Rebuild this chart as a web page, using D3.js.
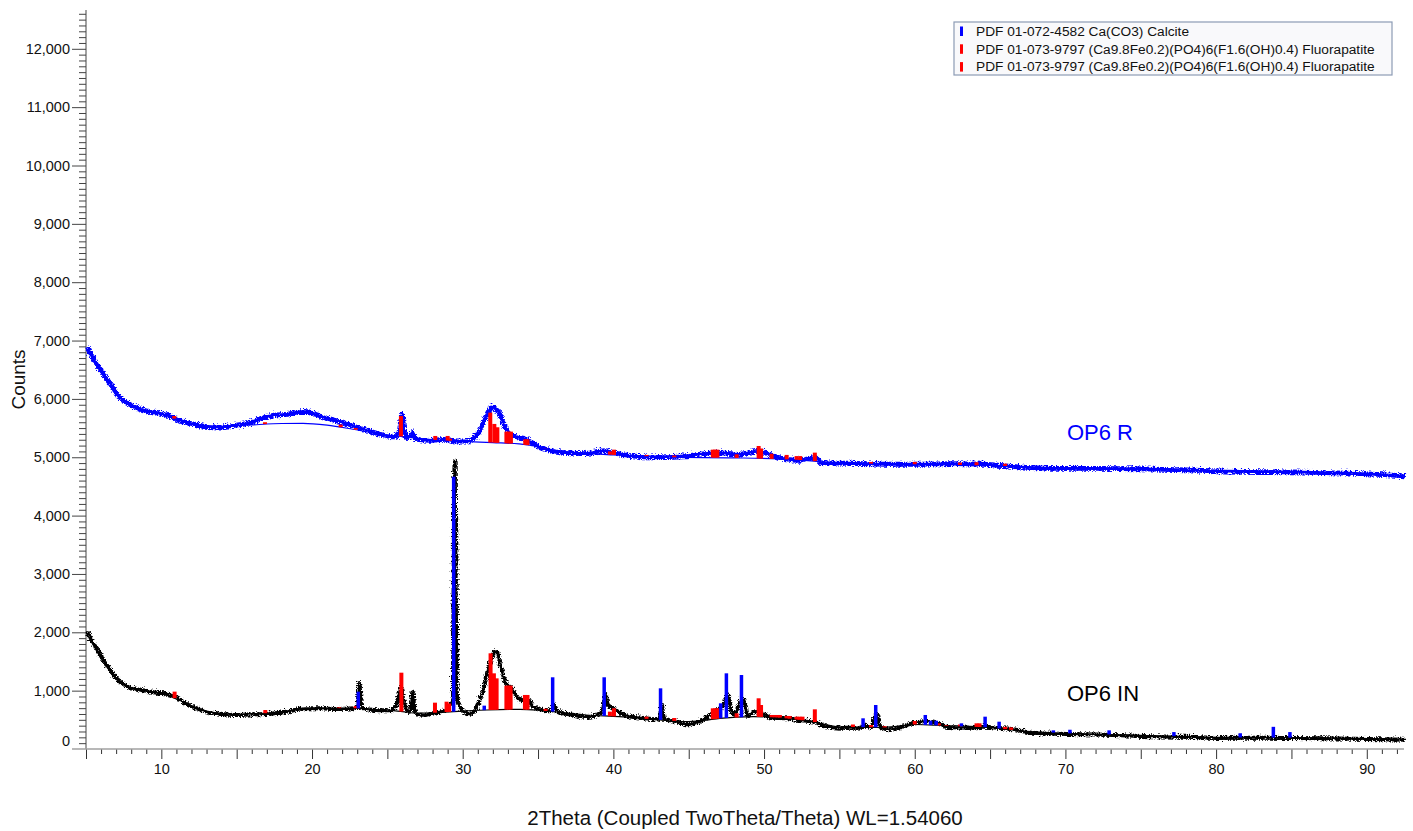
<!DOCTYPE html>
<html>
<head>
<meta charset="utf-8">
<script src="https://cdn.jsdelivr.net/npm/d3@7"></script>
<style>
  html, body { margin: 0; padding: 0; background: #ffffff; }
  svg { display: block; }
  text { font-family: "Liberation Sans", Arial, sans-serif; }
</style>
</head>
<body>
<svg id="chart" width="1413" height="831"></svg>
<script>
// ---------------- DATA ----------------
const xDomain = [5, 92.47];
const yDomain = [0, 12665];
const yMajorTicks = [0,1000,2000,3000,4000,5000,6000,7000,8000,9000,10000,11000,12000];
const xLabelTicks = [10,20,30,40,50,60,70,80,90];

// OP6 R measured pattern [2theta, counts]
const op6R = [[5.0,6900],[5.3,6760],[5.66,6610],[6.0,6480],[6.33,6350],[6.7,6210],[7.0,6100],[7.3,6010],[7.65,5950],[8.0,5900],[8.32,5867],[8.98,5810],[9.65,5782],[10.3,5742],[10.97,5668],[11.64,5610],[12.3,5571],[12.96,5542],[13.85,5536],[14.73,5565],[15.6,5593],[16.5,5685],[17.39,5737],[18.27,5754],[19.15,5799],[19.6,5800],[20.04,5765],[20.93,5685],[21.8,5627],[22.7,5553],[23.58,5480],[24.46,5411],[25.35,5365],[25.7,5450],[25.9,5760],[26.05,5450],[26.23,5353],[26.5,5400],[26.6,5440],[26.7,5380],[26.9,5325],[27.78,5308],[28.67,5325],[29.55,5296],[30.2,5296],[30.88,5411],[31.43,5696],[31.87,5879],[32.32,5782],[32.76,5525],[33.3,5382],[34.2,5325],[34.86,5210],[35.97,5125],[36.85,5096],[38.0,5079],[39.33,5130],[40.2,5079],[42.4,5022],[44.6,5039],[46.85,5096],[48.17,5068],[49.6,5120],[50.8,5022],[52.16,4965],[53.37,5010],[53.7,4924],[55.7,4914],[57.9,4897],[60.12,4897],[62.33,4908],[64.54,4897],[66.76,4851],[69.0,4828],[72,4825],[75,4817],[78,4800],[80,4782],[85,4765],[90,4731],[92.47,4697]];

// OP6 R fitted background
const op6RBackground = [[5,6880],[6,6450],[7,6080],[8,5880],[9,5790],[10,5740],[11,5650],[12,5580],[13,5540],[14,5530],[15,5545],[16,5553],[17,5570],[18,5578],[19.4,5582],[21,5550],[22.7,5480],[24,5420],[26,5353],[28,5300],[30.4,5267],[32,5250],[33.75,5228],[35,5180],[36,5125],[38,5070],[40,5040],[44,5000],[48,4990],[52,4960],[55,4900],[60,4880],[65,4860],[70,4810],[80,4770],[92.47,4690]];

// OP6 IN measured pattern [2theta, counts]
const op6IN = [[5.0,2040],[5.3,1880],[5.66,1731],[6.0,1580],[6.33,1440],[6.7,1310],[7.0,1217],[7.3,1150],[7.65,1097],[8.3,1045],[9.0,1011],[9.64,982],[10.3,965],[10.97,897],[11.64,783],[12.3,714],[12.96,657],[13.8,622],[14.95,600],[16.08,612],[17.14,622],[18.27,657],[19.4,714],[20.46,714],[21.6,703],[22.7,714],[22.95,760],[23.07,1150],[23.2,760],[23.58,697],[24.44,680],[25.1,680],[25.5,760],[25.8,1065],[26.05,800],[26.23,668],[26.45,700],[26.6,1000],[26.75,680],[26.9,622],[27.4,600],[28.05,640],[28.93,697],[29.27,897],[29.4,4940],[29.52,1100],[29.6,840],[29.93,668],[30.48,622],[30.93,783],[31.37,1126],[31.7,1469],[32.14,1697],[32.47,1411],[32.8,1154],[33.14,1068],[33.58,897],[34.02,840],[34.24,869],[34.57,754],[35.1,697],[35.57,680],[35.9,700],[35.97,790],[36.1,680],[36.45,640],[37.34,600],[38.2,566],[39.1,640],[39.4,955],[39.6,760],[39.88,725],[40.2,668],[40.87,583],[41.76,554],[42.64,526],[43.0,540],[43.13,790],[43.3,540],[43.97,497],[44.86,440],[45.74,509],[46.4,612],[47.07,725],[47.25,760],[47.5,950],[47.7,700],[47.95,620],[48.5,890],[48.84,583],[49.4,668],[49.84,612],[50.6,554],[51.5,543],[52.4,509],[53.26,486],[53.9,411],[55.03,383],[56.1,383],[56.57,420],[57.0,390],[57.4,617],[57.6,400],[58.13,354],[59.0,394],[59.9,468],[60.7,497],[61.5,460],[62.1,394],[63.4,383],[64.5,400],[65.0,390],[66.5,354],[67.64,297],[70,274],[72,265],[75,240],[78,225],[80,206],[83,210],[85,205],[88,195],[90,189],[92.47,175]];

// OP6 IN fitted background
const op6INBackground = [[5,2000],[6,1560],[7,1200],[8,1040],[9,990],[10,950],[11,860],[12,740],[13,650],[14,610],[15,595],[16,605],[17,615],[18,640],[19,680],[20,695],[21,700],[22,700],[23,697],[24,680],[25,665],[26,640],[27,615],[28,620],[29.4,640],[30,650],[31.6,668],[33.8,680],[35,665],[36,640],[38.2,583],[40.4,554],[42.6,509],[44.8,468],[46,490],[47.07,526],[49.3,554],[51,540],[53,480],[55,380],[58,370],[60,420],[62,400],[65,370],[67,310],[70,270],[75,235],[80,200],[85,195],[90,180],[92.47,170]];

// Reference stick patterns: [2theta, top counts] (bars start at the background)
const calciteIN = [[23.07,983],[29.4,4667],[31.43,743],[35.97,1229],[39.39,1229],[43.13,1040],[47.12,783],[47.5,1297],[48.5,1268],[56.57,526],[57.41,754],[60.7,583],[61.05,486],[61.42,486],[63.1,440],[64.67,554],[65.6,468],[69.2,320],[70.3,330],[72.9,320],[77.2,290],[81.6,270],[83.8,380],[84.9,290]];
const apatiteIN = [[10.88,983],[16.9,668],[21.8,714],[22.9,737],[25.93,1308],[28.16,794],[28.93,811],[29.1,780],[31.85,1640],[32.07,1297],[32.25,1211],[32.9,1086],[33.05,1086],[33.18,1086],[34.13,926],[34.3,926],[35.5,690],[39.77,640],[40.04,697],[42.2,554],[44.04,531],[46.6,697],[46.75,697],[46.9,697],[47.05,697],[48.18,612],[49.64,869],[49.8,754],[50.5,583],[50.7,583],[50.9,583],[51.05,583],[51.5,566],[51.7,566],[52.16,554],[52.35,554],[52.55,554],[53.37,680],[55.9,420],[57.1,410],[58.0,390],[60.0,480],[61.6,440],[62.1,410],[63.0,420],[64.1,440],[64.3,440],[66.0,380],[66.4,370]];
const apatiteR = [[10.86,5707],[16.88,5600],[21.9,5560],[22.9,5500],[25.9,5707],[28.18,5365],[29.0,5365],[29.15,5320],[31.83,5765],[32.1,5571],[32.3,5514],[32.9,5439],[33.05,5439],[33.2,5439],[34.15,5308],[34.3,5308],[35.5,5150],[39.77,5100],[40.04,5130],[42.2,5040],[44.04,5030],[46.6,5130],[46.75,5130],[46.9,5130],[48.18,5050],[49.64,5193],[49.8,5150],[50.5,5060],[51.5,5040],[52.16,5020],[52.4,5020],[53.37,5079],[57.1,4920],[60.0,4920],[63.0,4910],[64.1,4915],[66.0,4890]];

const legendItems = [
  {label: "PDF 01-072-4582 Ca(CO3) Calcite", color: "#0000ff"},
  {label: "PDF 01-073-9797 (Ca9.8Fe0.2)(PO4)6(F1.6(OH)0.4) Fluorapatite", color: "#ff0000"},
  {label: "PDF 01-073-9797 (Ca9.8Fe0.2)(PO4)6(F1.6(OH)0.4) Fluorapatite", color: "#ff0000"}
];
const sampleLabels = [
  {text: "OP6 R", x: 70.1, y: 5290, color: "#0000ff"},
  {text: "OP6 IN", x: 70.1, y: 820, color: "#000000"}
];

// ---------------- CHART ----------------
const svg = d3.select("#chart");
const x = d3.scaleLinear().domain(xDomain).range([86, 1404]);
const y = d3.scaleLinear().domain(yDomain).range([749, 10]);

const BLUE = "#0000ff", RED = "#ff0000";
const FONT = '"Liberation Sans", Arial, sans-serif';

// noise texture for the measured traces (visual only)
const defs = svg.append("defs");
const flt = defs.append("filter").attr("id", "grain")
  .attr("filterUnits", "userSpaceOnUse").attr("x", 0).attr("y", 0).attr("width", 1413).attr("height", 831);
flt.append("feTurbulence").attr("type", "turbulence").attr("baseFrequency", "0.45 0.6")
  .attr("numOctaves", 2).attr("seed", 3).attr("result", "n");
flt.append("feDisplacementMap").attr("in", "SourceGraphic").attr("in2", "n")
  .attr("scale", 5).attr("xChannelSelector", "R").attr("yChannelSelector", "G");

// y axis minor ticks
const yMinor = d3.range(100, 12601, 100).filter(v => v % 1000 !== 0);
svg.append("g").attr("transform", "translate(86,0)")
  .call(d3.axisLeft(y).tickValues(yMinor).tickSize(7).tickFormat(""))
  .call(g => g.select(".domain").remove())
  .call(g => g.selectAll("line").attr("stroke", "#444"));

// y axis major
const yAx = svg.append("g").attr("transform", "translate(86,0)")
  .call(d3.axisLeft(y).tickValues(yMajorTicks).tickSize(14).tickPadding(2).tickFormat(d3.format(",")))
  .call(g => g.select(".domain").attr("stroke", "#444").attr("d", `M0,${y(0)}V10`))
  .call(g => g.selectAll("line").attr("stroke", "#444"))
  .call(g => g.selectAll("text").attr("font-size", 14.5).attr("fill", "#111").attr("font-family", FONT));
yAx.selectAll(".tick").filter(d => d === 0).select("line").remove();
yAx.selectAll(".tick").filter(d => d === 0).select("text").attr("dy", "-0.25em");

// x axis ticks
const xMinor = d3.range(5, 93, 1).filter(v => v % 5 !== 0);
const xMajor = d3.range(5, 93, 5);
svg.append("g").attr("transform", `translate(0,${y(0)})`)
  .call(d3.axisBottom(x).tickValues(xMinor).tickSize(5).tickFormat(""))
  .call(g => g.select(".domain").remove())
  .call(g => g.selectAll("line").attr("stroke", "#333"));
svg.append("g").attr("transform", `translate(0,${y(0)})`)
  .call(d3.axisBottom(x).tickValues(xMajor).tickSize(10).tickFormat(""))
  .call(g => g.select(".domain").remove())
  .call(g => g.selectAll("line").attr("stroke", "#333"));
svg.append("g").attr("transform", `translate(0,${y(0)})`)
  .call(d3.axisBottom(x).tickValues(xLabelTicks).tickSize(0).tickPadding(15).tickFormat(d3.format("d")))
  .call(g => g.select(".domain").remove())
  .call(g => g.selectAll("text").attr("font-size", 14.5).attr("fill", "#111").attr("font-family", FONT));
// x baseline (gray)
svg.append("line").attr("x1", 72).attr("x2", x(xDomain[1])).attr("y1", y(0)).attr("y2", y(0))
  .attr("stroke", "#a0a0a0").attr("stroke-width", 1.5);

// axis titles
svg.append("text").attr("x", (x.range()[0] + x.range()[1]) / 2).attr("y", 825)
  .attr("text-anchor", "middle").attr("font-size", 20.5).attr("fill", "#111")
  .text("2Theta (Coupled TwoTheta/Theta) WL=1.54060");
svg.append("text").attr("transform", `translate(25,${(y.range()[0] + y.range()[1]) / 2}) rotate(-90)`)
  .attr("text-anchor", "middle").attr("font-size", 19).attr("fill", "#111")
  .text("Counts");

// helpers
const line = d3.line().x(d => x(d[0])).y(d => y(d[1])).curve(d3.curveMonotoneX);
function interp(arr, t) {
  for (let i = 1; i < arr.length; i++) {
    if (t <= arr[i][0]) {
      const a = arr[i - 1], b = arr[i];
      return a[1] + (b[1] - a[1]) * (t - a[0]) / (b[0] - a[0]);
    }
  }
  return arr[arr.length - 1][1];
}

const plot = svg.append("g");

// curves
plot.append("path").datum(op6R).attr("d", line).attr("fill", "none")
  .attr("stroke", BLUE).attr("stroke-width", 4.8).attr("stroke-linejoin", "round")
  .attr("filter", "url(#grain)");
plot.append("path").datum(op6RBackground).attr("d", line).attr("fill", "none")
  .attr("stroke", BLUE).attr("stroke-width", 1.2);
plot.append("path").datum(op6IN).attr("d", line).attr("fill", "none")
  .attr("stroke", "#000").attr("stroke-width", 4).attr("stroke-linejoin", "round")
  .attr("filter", "url(#grain)");
plot.append("path").datum(op6INBackground).attr("d", line).attr("fill", "none")
  .attr("stroke", "#000").attr("stroke-width", 1.2);

// sticks
function drawSticks(data, bg, color, w) {
  plot.append("g").selectAll("rect").data(data).join("rect")
    .attr("x", d => x(d[0]) - w / 2)
    .attr("width", w)
    .attr("y", d => Math.min(y(d[1]), y(interp(bg, d[0]))))
    .attr("height", d => Math.abs(y(interp(bg, d[0])) - y(d[1])))
    .attr("fill", color);
}
drawSticks(apatiteR, op6RBackground, RED, 4);
drawSticks(apatiteIN, op6INBackground, RED, 4);
drawSticks(calciteIN, op6INBackground, BLUE, 3.5);

// sample labels
svg.selectAll(".slabel").data(sampleLabels).join("text")
  .attr("x", d => x(d.x)).attr("y", d => y(d.y))
  .attr("font-size", 22).attr("fill", d => d.color).text(d => d.text);

// legend
const lg = svg.append("g").attr("transform", "translate(954,22)");
lg.append("rect").attr("width", 438).attr("height", 53)
  .attr("fill", "#f9f9fb").attr("stroke", "#8c9bb5").attr("stroke-width", 1.2);
const items = lg.selectAll(".item").data(legendItems).join("g")
  .attr("transform", (d, i) => `translate(0,${9 + i * 17.8})`);
items.append("rect").attr("x", 6).attr("y", -4.5).attr("width", 3).attr("height", 9.5).attr("fill", d => d.color);
items.append("text").attr("x", 22).attr("y", 4.8).attr("font-size", 13.7).attr("fill", "#111").text(d => d.label);
</script>
</body>
</html>
